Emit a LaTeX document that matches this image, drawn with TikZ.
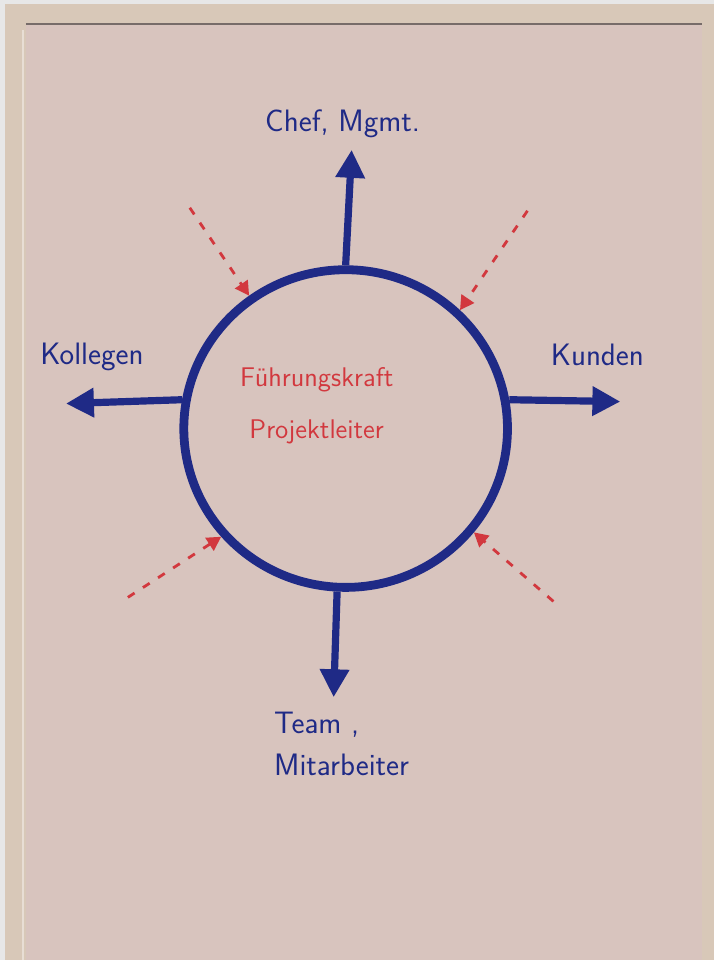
\documentclass[tikz,border=0pt]{standalone}
\usepackage{tikz}
\usetikzlibrary{
  arrows.meta,
  shapes.geometric
}
\definecolor{flipBlue}{HTML}{1F2A86}
\definecolor{flipRed}{HTML}{D2383E}
\definecolor{flipPaper}{HTML}{D8C4BE}
\definecolor{flipBoard}{HTML}{D8C8B8}
\definecolor{flipWall}{HTML}{E7E7E7}
\tikzset{
  ringNode/.style={
    ellipse,
    draw=flipBlue,
    line width=4.4pt,
    minimum width=162pt,
    minimum height=159pt,
    inner sep=0pt
  },
  outArrow/.style={flipBlue, line width=3.6pt, -{Triangle[length=14pt,width=14pt]}},
  hintArrow/.style={
    flipRed,
    line width=1.4pt,
    dash pattern=on 4pt off 5pt,
    -{Triangle[length=7pt,width=7.5pt]}
  },
  blueLabel/.style={
    text=flipBlue,
    font=\sffamily\fontsize{15.5}{21}\selectfont,
    inner sep=1pt
  },
  redLabel/.style={
    text=flipRed,
    font=\sffamily\fontsize{13.5}{26}\selectfont,
    align=center,
    inner sep=1pt
  }
}

\begin{document}
\begin{tikzpicture}[x=0.5pt,y=-0.5pt]
  % flipchart sheet
  \fill[flipWall] (0,0) rectangle (715,961);
  \fill[flipBoard] (5,4) rectangle (715,961);
  \fill[flipPaper] (26,24) rectangle (703,961);
  \draw[flipPaper!55!black, line width=0.8pt] (26,24) -- (703,24);
  \draw[flipBoard!60!white, line width=1pt] (23,30) -- (23,961);

  \node[ringNode] (leader) at (346,429) {};
  \node[redLabel] (leaderText) at (317,406) {Führungskraft\\Projektleiter};

  \coordinate (chefTip) at (352,150);
  \coordinate (colleagueTip) at (66,404);
  \coordinate (clientTip) at (621,402);
  \coordinate (teamTip) at (334,698);

  \draw[outArrow] (leader.north) -- (chefTip);
  \draw[outArrow] (leader.170) -- (colleagueTip);
  \draw[outArrow] (leader.10) -- (clientTip);
  \draw[outArrow] (leader.267) -- (teamTip);

  \node[blueLabel] (chefLabel) at (343,124) {Chef, Mgmt.};
  \node[blueLabel] (colleagueLabel) at (92,357) {Kollegen};
  \node[blueLabel] (clientLabel) at (598,355) {Kunden};
  \node[blueLabel, align=left, anchor=north west] (teamLabel) at (272,710)
    {Team ,\\Mitarbeiter};

  % influences from outside
  \coordinate (hintNW) at (190,208);
  \coordinate (hintNE) at (528,211);
  \coordinate (hintSW) at (128,598);
  \coordinate (hintSE) at (554,602);
  \draw[hintArrow] (hintNW) -- (leader.126);
  \draw[hintArrow] (hintNE) -- (leader.46);
  \draw[hintArrow] (hintSW) -- (leader.221);
  \draw[hintArrow] (hintSE) -- (leader.321);
\end{tikzpicture}
\end{document}
